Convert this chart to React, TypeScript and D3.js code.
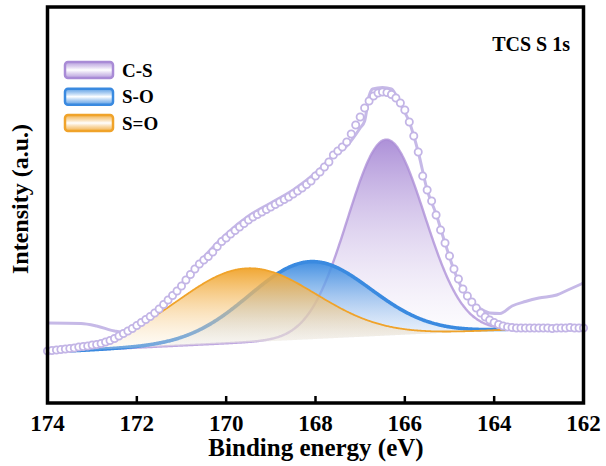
import React from "react";
import * as d3 from "d3";

// ---- data ----
const energyStart = 174.0;
const energyStep = 0.1;
// experimental S 1s intensity (a.u.), from 174.0 eV down to 162.0 eV in 0.1 eV steps
const rawIntensity = [
  52, 52.5, 53, 53.5, 54, 54.5, 55, 56, 56.5, 57, 58,
  58.5, 59.5, 61, 62.5, 64.5, 67, 69.5, 72, 74.5, 77.5,
  80.5, 83.5, 86.5, 90, 94, 98.5, 103, 107.5, 112, 117,
  123, 128.5, 134, 139, 143, 146.5, 151, 156.5, 161.5, 165,
  169, 172.5, 176, 179.5, 183, 186, 188.5, 191, 193.5, 196,
  198.5, 201, 203.5, 206, 209, 212, 215, 218.5, 222, 227,
  231, 236, 241, 248, 252, 256, 261, 269, 278, 286,
  295, 302, 307, 310, 311, 310.5, 308.5, 305, 300, 293,
  281, 267, 251, 227, 213, 202, 188, 173, 160, 147,
  134, 124, 114, 107, 101, 95, 90, 86, 83, 80.5,
  78.5, 77, 76, 75.5, 75, 75, 75, 75, 75, 75,
  75, 75, 74.5, 75, 75, 75, 75.5, 75, 75, 75,
];
// envelope (fit sum) line
const envelopeEnergy = [
  174.0, 173.25, 172.9, 172.5, 172.35, 172.15, 172.0, 171.5, 171.0, 170.5, 170.0,
  169.5, 169.0, 168.5, 168.0, 167.6, 167.3, 167.0, 166.9, 166.8, 166.72, 166.5,
  166.3, 166.2, 166.05, 165.9, 165.7, 165.5, 165.3, 165.1, 164.9, 164.7, 164.5,
  164.3, 164.1, 163.87, 163.6, 163.3, 163.0, 162.6, 162.35, 162.05, 162.0,
];
const envelopeIntensity = [
  80, 79.5, 77, 72, 71, 73, 78, 96, 119, 146, 169,
  187, 200, 213, 230, 247, 257, 275, 282, 307, 314, 315.5,
  314, 308, 295, 281, 251, 213, 189, 160, 133, 113, 101,
  94, 90, 89.5, 97, 101.5, 105, 108, 113, 119, 120,
];
// linear background
const backgroundEnergy = [174, 162];
const backgroundIntensity = [51, 77];
// fitted components (Gaussian): name, centre (eV), height above background, sigma (eV)
const peakNames = ["C-S", "S-O", "S=O"];
const peakCenters = [166.42, 168.12, 169.54];
const peakHeights = [196, 77.6, 74];
const peakSigmas = [0.86, 1.36, 1.55];
const peakColors = ["#a98bd6", "#3a8ae0", "#f0a32a"];
const peakFade = ["#ffffff", "#eaf2fc", "#fdf3e3"];
const fitRange = [173.5, 163.5];

const xTicks = [174, 172, 170, 168, 166, 164, 162];
const titleText = "TCS S 1s";
const xLabel = "Binding energy (eV)";
const yLabel = "Intensity (a.u.)";

const W = 606;
const H = 466;
const FONT = "Liberation Serif";

export default function App() {
  const x = d3.scaleLinear().domain([174, 162]).range([47.5, 583.5]);
  const y = d3.scaleLinear().domain([0, 396]).range([403, 7]);
  const bg = d3.scaleLinear().domain(backgroundEnergy).range(backgroundIntensity);

  const points = rawIntensity.map((v, i) => ({ e: energyStart - i * energyStep, v }));
  const envelope = envelopeEnergy.map((e, i) => ({ e, v: envelopeIntensity[i] }));

  const grid = d3.range(fitRange[0], fitRange[1] - 0.001, -0.02);
  const comps = peakNames.map((name, k) => ({
    name,
    color: peakColors[k],
    fade: peakFade[k],
    pts: grid.map((e) => ({
      e,
      b: bg(e),
      g: peakHeights[k] * Math.exp(-((e - peakCenters[k]) ** 2) / (2 * peakSigmas[k] ** 2)),
    })),
  }));

  const area = d3
    .area<{ e: number; b: number; g: number }>()
    .x((d) => x(d.e))
    .y0((d) => y(d.b))
    .y1((d) => y(d.b + d.g))
    .curve(d3.curveBasis);
  const compLine = d3
    .line<{ e: number; b: number; g: number }>()
    .x((d) => x(d.e))
    .y((d) => y(d.b + d.g))
    .curve(d3.curveBasis);
  const envLine = d3
    .line<{ e: number; v: number }>()
    .x((d) => x(d.e))
    .y((d) => y(d.v))
    .curve(d3.curveMonotoneX);

  const legendY = [70, 96.7, 123];

  return (
    <div>
      <style>{"body{margin:0;} svg{display:block;}"}</style>
      <svg width={W} height={H}>
        <defs>
          {comps.map((c, k) => (
            <linearGradient key={k} id={`g${k}`} x1="0" y1="0" x2="0" y2="1">
              <stop offset="0" stopColor={c.color} stopOpacity={0.95} />
              <stop offset="1" stopColor={c.fade} stopOpacity={0.25} />
            </linearGradient>
          ))}
          {comps.map((c, k) => (
            <linearGradient key={`l${k}`} id={`lg${k}`} x1="0" y1="0" x2="0" y2="1">
              <stop offset="0" stopColor={c.color} stopOpacity={0.8} />
              <stop offset="0.5" stopColor="#ffffff" stopOpacity={1} />
              <stop offset="1" stopColor={c.color} stopOpacity={0.8} />
            </linearGradient>
          ))}
        </defs>

        {/* fitted components: purple first, then blue, then orange */}
        {[0, 1, 2].map((k) => (
          <g key={k}>
            <path d={area(comps[k].pts) || ""} fill={`url(#g${k})`} />
            <path
              d={compLine(comps[k].pts) || ""}
              fill="none"
              stroke={comps[k].color}
              strokeWidth={k === 1 ? 3.6 : k === 2 ? 1.8 : 2.4}
              strokeOpacity={k === 0 ? 0.75 : 1}
            />
          </g>
        ))}

        {/* envelope */}
        <path d={envLine(envelope) || ""} fill="none" stroke="#c6b9e7" strokeWidth={3} />

        {/* experimental points */}
        {points.map((p, i) => (
          <circle key={i} cx={x(p.e)} cy={y(p.v)} r={3.6} fill="#ffffff" stroke="#c3b5e6" strokeWidth={1.8} />
        ))}

        {/* frame */}
        <rect x={47.5} y={7} width={536} height={396} fill="none" stroke="#000" strokeWidth={3.5} />
        {xTicks.map((t) => (
          <g key={t}>
            <line x1={x(t)} x2={x(t)} y1={403} y2={396} stroke="#000" strokeWidth={2.5} />
            <text x={x(t)} y={431} textAnchor="middle" fontSize={23} fontWeight="bold" fontFamily={FONT}>
              {t}
            </text>
          </g>
        ))}
        <text x={316} y={456} textAnchor="middle" fontSize={25} fontWeight="bold" fontFamily={FONT}>
          {xLabel}
        </text>
        <text
          transform="translate(28,199) rotate(-90)"
          textAnchor="middle"
          fontSize={24}
          fontWeight="bold"
          fontFamily={FONT}
        >
          {yLabel}
        </text>
        <text x={570} y={51} textAnchor="end" fontSize={20} fontWeight="bold" fontFamily={FONT}>
          {titleText}
        </text>

        {/* legend */}
        {peakNames.map((n, k) => (
          <g key={n}>
            <rect
              x={65}
              y={legendY[k] - 8}
              width={48}
              height={16}
              rx={3}
              fill={`url(#lg${k})`}
              stroke={peakColors[k]}
              strokeWidth={2.5}
            />
            <text x={122} y={legendY[k] + 6.5} fontSize={19} fontWeight="bold" fontFamily={FONT}>
              {n}
            </text>
          </g>
        ))}
      </svg>
    </div>
  );
}
